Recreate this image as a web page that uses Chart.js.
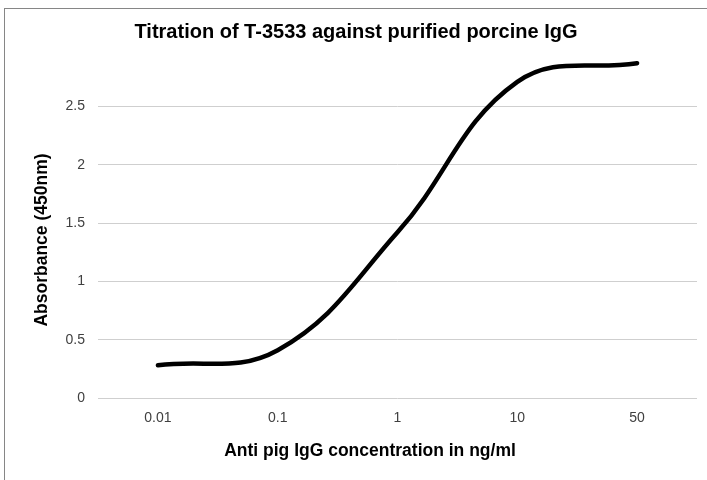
<!DOCTYPE html>
<html>
<head>
<meta charset="utf-8">
<script src="https://cdn.jsdelivr.net/npm/chart.js@4/dist/chart.umd.min.js"></script>
<style>
  html, body { margin: 0; padding: 0; background: #fff; }
  #wrap { position: relative; width: 707px; height: 480px; overflow: hidden; }
  #frame { position: absolute; left: 4px; top: 8px; width: 800px; height: 600px; border: 1px solid #868686; box-sizing: border-box; }
  #c { position: absolute; left: 0; top: 0; }
</style>
</head>
<body>
<div id="wrap">
  <div id="frame"></div>
  <canvas id="c" width="707" height="480"></canvas>
</div>
<script>
// ---- data ----
const categories = ['0.01', '0.1', '1', '10', '50'];
const absorbance = [0.28, 0.41, 1.42, 2.71, 2.87];
const yMin = 0;
const yMax = 3;
const yStep = 0.5;
const chartTitle = 'Titration of T-3533 against purified porcine IgG';
const xTitle = 'Anti pig IgG concentration in ng/ml';
const yTitle = 'Absorbance (450nm)';

const FONT = "'Liberation Sans', Arial, sans-serif";

const titlesPlugin = {
  id: 'titles',
  afterDraw(chart) {
    const ctx = chart.ctx;
    ctx.save();
    ctx.fillStyle = '#000';
    ctx.textAlign = 'center';
    ctx.textBaseline = 'alphabetic';
    ctx.font = 'bold 20px ' + FONT;
    ctx.fillText(chartTitle, 356, 38);
    ctx.font = 'bold 17.5px ' + FONT;
    ctx.fillText(xTitle, 370, 456);
    ctx.translate(47, 240);
    ctx.rotate(-Math.PI / 2);
    ctx.fillText(yTitle, 0, 0);
    ctx.restore();
  }
};

new Chart(document.getElementById('c'), {
  type: 'line',
  data: {
    labels: categories,
    datasets: [{
      data: absorbance,
      borderColor: '#000',
      borderWidth: 4.5,
      borderCapStyle: 'round',
      borderJoinStyle: 'round',
      pointRadius: 0,
      pointHoverRadius: 0,
      tension: 0.4,
      fill: false
    }]
  },
  options: {
    responsive: false,
    animation: false,
    devicePixelRatio: 1,
    layout: { padding: { top: 48, right: 10, left: 0, bottom: 0 } },
    plugins: { legend: { display: false }, title: { display: false }, tooltip: { enabled: false } },
    scales: {
      x: {
        type: 'category',
        offset: true,
        grid: { display: false },
        border: { display: false },
        ticks: { color: '#404040', font: { family: FONT, size: 14 }, padding: 4, maxRotation: 0, autoSkip: false },
        afterFit(s) { s.height = 82; }
      },
      y: {
        min: yMin,
        max: yMax,
        border: { display: false },
        grid: {
          drawTicks: false,
          color: (c) => (c.tick && c.tick.value >= yMax) ? 'rgba(0,0,0,0)' : '#cfcfcf',
          lineWidth: 1
        },
        ticks: {
          stepSize: yStep,
          color: '#404040',
          font: { family: FONT, size: 14 },
          padding: 13,
          callback: (v) => v >= yMax ? '' : String(v)
        },
        afterFit(s) { s.width = 98; }
      }
    }
  },
  plugins: [titlesPlugin]
});
</script>
</body>
</html>
